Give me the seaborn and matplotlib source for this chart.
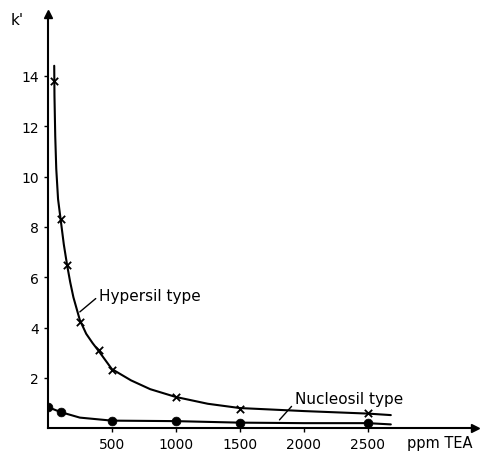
import matplotlib
matplotlib.use("Agg")
import matplotlib.pyplot as plt
import seaborn as sns

hypersil_ppm = [50, 100, 150, 250, 400, 500, 1000, 1500, 2500]
hypersil_k = [13.8, 8.3, 6.5, 4.2, 3.1, 2.32, 1.24, 0.78, 0.6]
nucleosil_ppm = [0, 100, 500, 1000, 1500, 2500]
nucleosil_k = [0.84, 0.64, 0.3, 0.28, 0.2, 0.22]

# hand-drawn curves
hypersil_curve_ppm = [50, 52, 58, 66, 80, 100, 125, 150, 175, 200, 250, 300, 350, 400, 500,
                      650, 800, 1000, 1250, 1500, 2000, 2500, 2680]
hypersil_curve_k = [14.4, 13.2, 11.6, 10.3, 9.1, 8.3, 7.3, 6.5, 5.8, 5.2, 4.3, 3.75, 3.38, 3.05, 2.35,
                    1.9, 1.55, 1.24, 0.97, 0.8, 0.68, 0.58, 0.52]
nucleosil_curve_ppm = [0, 100, 250, 500, 1000, 1500, 2000, 2500, 2680]
nucleosil_curve_k = [0.84, 0.64, 0.42, 0.3, 0.28, 0.22, 0.2, 0.2, 0.15]

x_ticks = [500, 1000, 1500, 2000, 2500]
y_ticks = [2, 4, 6, 8, 10, 12, 14]

sns.set_style("ticks")
plt.rcParams["font.family"] = ["DejaVu Sans"]
plt.rcParams["text.color"] = "black"

fig = plt.figure(figsize=(4.83, 4.6), dpi=100)
ax = fig.add_axes([0.099, 0.067, 0.884, 0.9])

sns.lineplot(x=hypersil_curve_ppm, y=hypersil_curve_k, sort=False, color="black", linewidth=1.5, ax=ax)
sns.lineplot(x=nucleosil_curve_ppm, y=nucleosil_curve_k, sort=False, color="black", linewidth=1.5, ax=ax)
sns.scatterplot(x=hypersil_ppm, y=hypersil_k, marker="x", color="black", s=28, linewidth=1.3, ax=ax, zorder=3)
sns.scatterplot(x=nucleosil_ppm, y=nucleosil_k, marker="o", color="black", s=40, edgecolor="black", ax=ax, zorder=3)

ax.set_xlim(0, 3336)
ax.set_ylim(0, 16.45)
ax.set_xticks(x_ticks)
ax.set_yticks(y_ticks)
ax.tick_params(direction="out", length=3, width=1, labelsize=10, colors="black")
sns.despine(ax=ax)
for side in ("left", "bottom"):
    ax.spines[side].set_linewidth(1.5)
    ax.spines[side].set_color("black")

# arrow heads on the axes
ax.plot(1, 0, ">", color="black", markersize=6, transform=ax.transAxes, clip_on=False)
ax.plot(0, 1, "^", color="black", markersize=6, transform=ax.transAxes, clip_on=False)

ax.text(2810, -0.27, "ppm TEA", fontsize=10.5, ha="left", va="top", color="black")
fig.text(0.022, 0.955, "k'", fontsize=11, ha="left", va="center", color="black")

ax.annotate("Hypersil type", xy=(250, 4.62), xytext=(400, 5.26),
            fontsize=11, ha="left", va="center", color="black",
            arrowprops=dict(arrowstyle="-", color="black", lw=1, shrinkA=0, shrinkB=0, relpos=(0, 0.5)))
ax.annotate("Nucleosil type", xy=(1810, 0.33), xytext=(1930, 1.16),
            fontsize=11, ha="left", va="center", color="black",
            arrowprops=dict(arrowstyle="-", color="black", lw=1, shrinkA=0, shrinkB=0, relpos=(0, 0.25)))

fig.savefig("out.png", dpi=100)
